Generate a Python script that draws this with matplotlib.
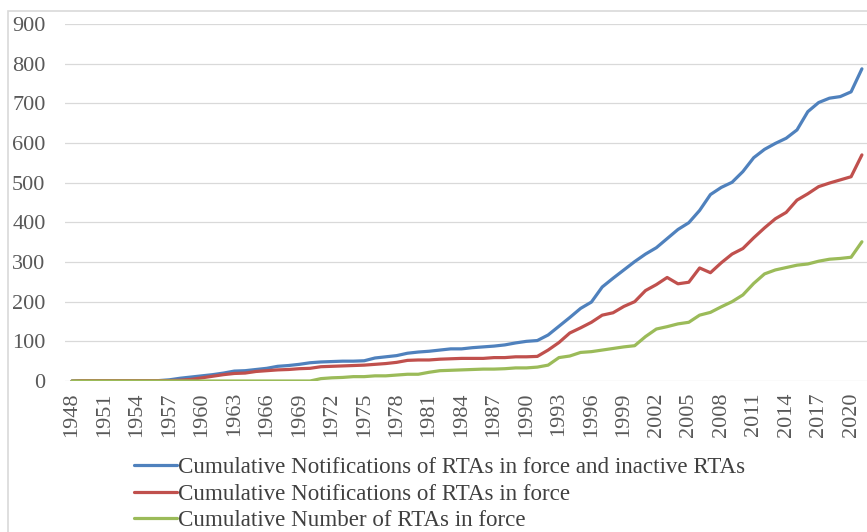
import matplotlib
matplotlib.use("Agg")
import matplotlib.pyplot as plt
from matplotlib.patches import Rectangle

years = list(range(1948, 2022))

# Cumulative notifications of RTAs in force and inactive RTAs
total_notif = [0, 1, 1, 1, 1, 1, 1, 1, 1, 3, 7, 10, 13, 16, 20, 25, 26, 29, 32, 37,
               39, 42, 46, 48, 49, 50, 50, 51, 58, 61, 64, 70, 73, 75, 78, 81, 81, 84,
               86, 88, 91, 96, 100, 102, 116, 138, 160, 183, 199, 237, 259, 280, 301,
               320, 336, 359, 382, 399, 430, 470, 488, 501, 528, 563, 584, 599, 612,
               633, 679, 702, 713, 717, 729, 787]
# Cumulative notifications of RTAs in force
inforce_notif = [0, 1, 1, 1, 1, 1, 1, 1, 1, 1, 2, 4, 8, 12, 16, 19, 20, 24, 26, 28,
                 29, 31, 32, 36, 37, 38, 39, 40, 42, 44, 47, 52, 53, 53, 55, 56, 57, 57,
                 57, 59, 59, 61, 61, 62, 78, 97, 121, 134, 148, 166, 172, 188, 200, 228,
                 243, 261, 245, 249, 285, 273, 298, 320, 334, 361, 386, 409, 425, 456,
                 472, 490, 499, 507, 515, 570]
# Cumulative number of RTAs in force
inforce_num = [0, 0, 0, 0, 0, 0, 0, 0, 0, 0, 0, 0, 0, 0, 0, 0, 0, 0, 0, 0,
               0, 0, 0, 6, 8, 9, 11, 11, 13, 13, 15, 17, 17, 22, 26, 27, 28, 29,
               30, 30, 31, 33, 33, 35, 40, 59, 63, 72, 74, 78, 82, 86, 89, 112, 131,
               137, 144, 148, 166, 173, 187, 200, 217, 246, 270, 280, 286, 292, 295,
               302, 307, 309, 312, 351]

labels = ["Cumulative Notifications of RTAs in force and inactive RTAs",
          "Cumulative Notifications of RTAs in force",
          "Cumulative Number of RTAs in force"]
colors = ["#4F81BD", "#C0504D", "#9BBB59"]

plt.rcParams["font.family"] = ["Liberation Serif", "DejaVu Serif"]

fig = plt.figure(figsize=(8.67, 5.32), dpi=100)
W, H = 867, 532
# chart border (cut off on right / bottom like the reference)
fig.patches.append(Rectangle((8 / W, -0.1), 1.1, 1 - 11 / H + 0.1, transform=fig.transFigure,
                             fill=False, edgecolor="#D9D9D9", lw=1.2))

ax = fig.add_axes([65 / W, 1 - 381 / H, 1 - 65 / W, (381 - 24) / H])
for series, lab, c in zip([total_notif, inforce_notif, inforce_num], labels, colors):
    ax.plot(years, series, color=c, lw=2.3, label=lab, solid_capstyle="round")

ax.set_xlim(1947.35, 2021.47)
ax.set_ylim(0, 900)
ax.set_yticks(range(0, 901, 100))
ax.set_xticks(years[::3])
ax.set_xticklabels([str(y) for y in years[::3]], rotation=90)
ax.grid(axis="y", color="#D9D9D9", lw=0.9)
ax.set_axisbelow(True)
for s in ax.spines.values():
    s.set_visible(False)
ax.tick_params(axis="both", length=0, labelsize=16, colors="#595959")
ax.tick_params(axis="y", pad=14)
ax.tick_params(axis="x", pad=8)

leg = fig.legend(loc="upper left", bbox_to_anchor=(134 / W, 1 - 457 / H), frameon=False,
                 fontsize=16.6, handlelength=1.85, handletextpad=0.05, labelspacing=0.24,
                 borderaxespad=0, borderpad=0)
for t in leg.get_texts():
    t.set_color("#404040")

fig.savefig("out.png", dpi=100)
